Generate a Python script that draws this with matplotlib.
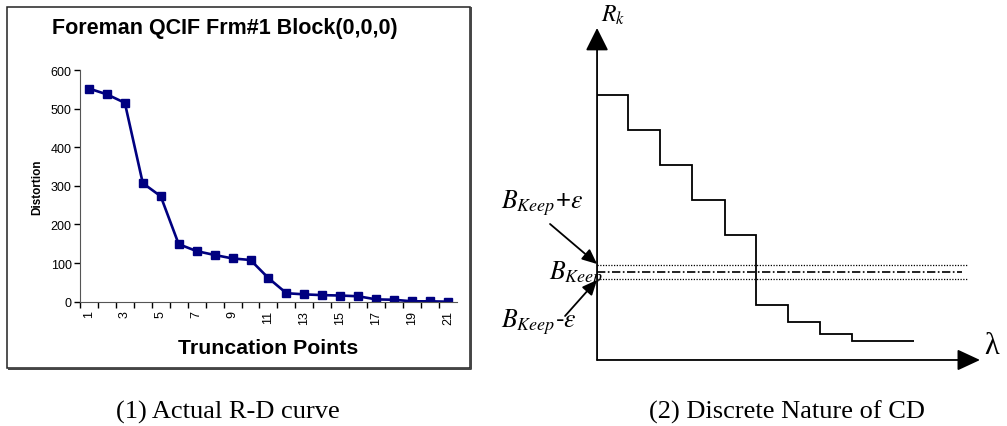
import matplotlib
matplotlib.use("Agg")
import matplotlib.pyplot as plt
from matplotlib.patches import Rectangle
from matplotlib.lines import Line2D

plt.rcParams['font.family'] = 'Liberation Sans'
plt.rcParams['mathtext.fontset'] = 'stix'

# left chart data: distortion at each truncation point
trunc_points = list(range(1, 22))
distortion = [552, 537, 515, 307, 273, 149, 131, 121, 112, 108, 61,
              22, 19, 17, 16, 14, 6, 5, 1, 1, 0]
y_ticks = [0, 100, 200, 300, 400, 500, 600]

# right diagram: step edges along lambda and R_k level of each step
lam_edges = [0, 0.97, 1.97, 2.97, 4.0, 4.97, 5.97, 6.97, 7.97, 9.9]
rk_levels = [265, 230, 195, 160, 125, 55, 38, 26, 19]
b_keep = 88
eps = 7

fig = plt.figure(figsize=(10.07, 4.27), dpi=100)

# frame around the excel chart, darker shadow on right/bottom edges
fig.patches.append(Rectangle((0.007, 0.136), 0.4597, 0.845, transform=fig.transFigure,
                             fill=False, ec='#222222', lw=1.1))
fig.lines.append(Line2D([0.4681, 0.4681, 0.0085], [0.979, 0.1343, 0.1343],
                        transform=fig.transFigure, color='#444444', lw=1.4))

ax = fig.add_axes([0.0794, 0.2911, 0.3744, 0.5426])
ax.plot(trunc_points, distortion, color='#000080', lw=1.9, marker='s',
        markersize=5.5, markerfacecolor='#000080', markeredgecolor='#000080')
ax.set_xlim(0.5, 21.5)
ax.set_ylim(0, 600)
ax.set_yticks(y_ticks)
ax.set_xticks(trunc_points)
ax.set_xticklabels([str(t) if t % 2 == 1 else '' for t in trunc_points], rotation=90)
ax.set_xticks([t + 0.5 for t in range(0, 21)], minor=True)
ax.tick_params(axis='x', which='major', length=0, pad=6, labelsize=9)
ax.tick_params(axis='x', which='minor', length=4, width=1, direction='out')
ax.tick_params(axis='y', length=4, width=1, labelsize=9, pad=2)
for s in ['top', 'right']:
    ax.spines[s].set_visible(False)
for s in ['left', 'bottom']:
    ax.spines[s].set_color('#555555')
ax.set_ylabel('Distortion', fontsize=8.5, fontweight='bold', labelpad=5)
ax.set_xlabel('Truncation Points', fontsize=15.3, fontweight='bold', labelpad=10)
fig.text(0.2234, 0.934, 'Foreman QCIF Frm#1 Block(0,0,0)', fontsize=15.5,
         fontweight='bold', ha='center', va='center')

# right diagram
ax2 = fig.add_axes([0.5929, 0.1546, 0.3803, 0.7775])
ax2.set_xlim(0, 11.97)
ax2.set_ylim(0, 332)
ax2.axis('off')
ax2.stairs(rk_levels, lam_edges, baseline=None, color='k', lw=1.3)

ax2.annotate('', xy=(0, 332), xytext=(0, 0), xycoords='data',
             arrowprops=dict(arrowstyle='-|>,head_length=1.4,head_width=0.7',
                             lw=1.3, color='k', shrinkA=0, shrinkB=0))
ax2.annotate('', xy=(11.97, 0), xytext=(0, 0), xycoords='data',
             arrowprops=dict(arrowstyle='-|>,head_length=1.4,head_width=0.65',
                             lw=1.3, color='k', shrinkA=0, shrinkB=0))

ax2.plot([0, 11.56], [b_keep + eps, b_keep + eps], color='k', lw=0.9, ls=(0, (1, 1.2)))
ax2.plot([0, 11.56], [b_keep - eps, b_keep - eps], color='k', lw=0.9, ls=(0, (1, 1.2)))
ax2.plot([0, 11.4], [b_keep, b_keep], color='k', lw=1.2, ls=(0, (5, 1.5, 1, 1.5)))

ax2.text(0.5, 346, r'$R_k$', fontsize=17, ha='center', va='center', clip_on=False)
ax2.text(12.1, 14, 'λ', fontsize=22, family='Liberation Serif', ha='left',
         va='center', clip_on=False)

ax2.text(-3.0, 158, r'$B_{Keep}$+$\varepsilon$', fontsize=18.5, ha='left', va='center', clip_on=False)
ax2.text(-1.5, 87, r'$B_{Keep}$', fontsize=18.5, ha='left', va='center', clip_on=False)
ax2.text(-3.0, 39, r'$B_{Keep}$-$\varepsilon$', fontsize=18.5, ha='left', va='center', clip_on=False)

ax2.annotate('', xy=(0, b_keep + eps + 1), xytext=(-1.47, 136),
             arrowprops=dict(arrowstyle='-|>,head_length=0.9,head_width=0.4',
                             lw=1.3, color='k', shrinkA=0, shrinkB=0), annotation_clip=False)
ax2.annotate('', xy=(0, b_keep - eps - 1), xytext=(-1.0, 44),
             arrowprops=dict(arrowstyle='-|>,head_length=0.9,head_width=0.4',
                             lw=1.3, color='k', shrinkA=0, shrinkB=0), annotation_clip=False)

fig.text(228 / 1007, 1 - 412 / 427, '(1) Actual R-D curve', fontsize=19,
         family='Liberation Serif', ha='center', va='center')
fig.text(787 / 1007, 1 - 412 / 427, '(2) Discrete Nature of CD', fontsize=19,
         family='Liberation Serif', ha='center', va='center')

fig.savefig('out.png', dpi=100)
